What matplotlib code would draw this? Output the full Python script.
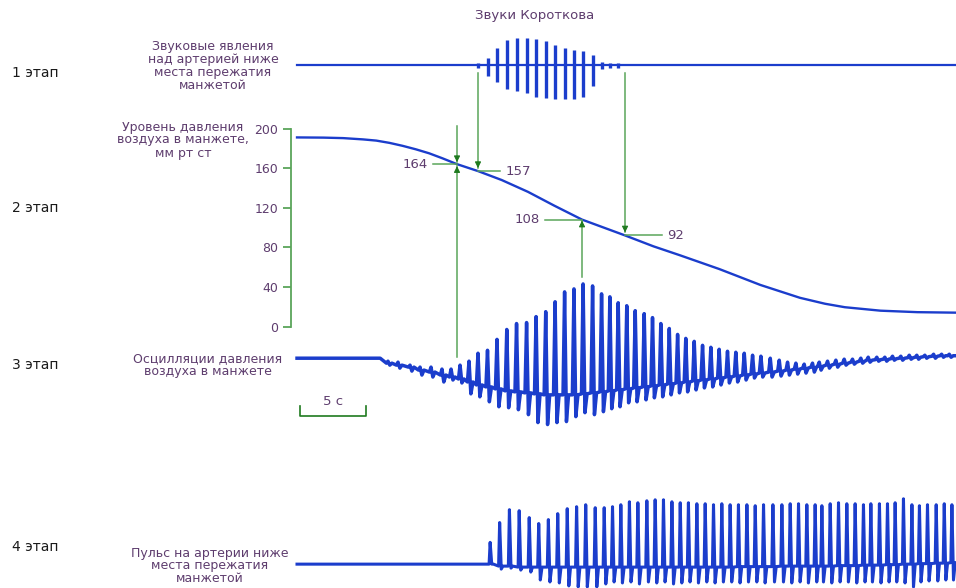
import matplotlib
matplotlib.use("Agg")
import matplotlib.pyplot as plt

# heartbeat times, s (shared by all traces)
beat_t = [6.89, 7.65, 8.56, 9.32, 10.15, 10.98, 11.67, 12.35, 13.03, 13.71,
          14.43, 15.15, 15.89, 16.63, 17.39, 18.11, 18.84, 19.55, 20.27, 20.98,
          21.67, 22.39, 23.07, 23.70, 24.33, 24.98, 25.62, 26.30, 26.93, 27.56,
          28.20, 28.83, 29.45, 30.09, 30.72, 31.35, 31.98, 32.61, 33.24, 33.88,
          34.51, 35.14, 35.85, 36.53, 37.16, 37.79, 38.42, 39.05, 39.56, 40.19,
          40.82, 41.45, 42.08, 42.71, 43.27, 43.92, 44.53, 45.11, 45.74, 46.38,
          46.95, 47.56, 48.22, 48.83, 49.41]
t_end = 49.9

# cuff pressure, mm Hg
press_t = [0, 2.0, 3.5, 5.0, 6.0, 7.0, 8.0, 9.0, 10.0, 11.0, 12.12, 13.71, 15.5,
           17.5, 19.5, 21.59, 24.85, 27.0, 29.0, 32.0, 35.1, 38.1, 40.0, 41.5,
           44.2, 47.0, 49.9]
press_v = [191, 190.8, 190.3, 189, 187.8, 185.5, 182.5, 179, 175, 170, 164, 157,
           148, 136, 122, 108, 92, 81, 72, 58, 42, 29, 23, 19.5, 16, 14.5, 14]

# stage 1: Korotkoff sounds (beats 9..24)
sound_first = 9
sound_up = [2.3, 7.7, 17.7, 25, 27, 27.7, 26.3, 24.3, 20.7, 17.7, 15, 14, 10, 3.3, 2.3, 1.7]
sound_down = [3.3, 11, 16.7, 24.3, 25.7, 27.7, 31.7, 33.3, 34.3, 34.3, 34.3, 31.7, 21, 4.3, 3.3, 2.7]

# stage 3: cuff pressure oscillations, relative to resting level
osc_flat_end = 6.3
osc_top = [-3, -4, -7, -9, -9, -11, -11, -7, -3, 5, 8, 19, 29, 35, 36, 42, 47, 57, 67, 70,
           75, 73, 65, 62, 56, 53, 48, 45, 41, 35, 30, 24, 20, 17, 13, 11, 9, 7, 6, 5,
           3, 2, 0, -2, -4, -5, -6, -5, -4, -3, -2, -1, -1, 0, 1, 1, 1, 2, 2, 3,
           3, 3, 4, 4, 4]
osc_bot = [-7, -10, -13, -17, -19, -24, -22, -25, -36, -39, -44, -49, -50, -52, -57, -65, -67, -65, -64, -59,
           -55, -57, -54, -51, -49, -45, -44, -42, -40, -39, -37, -35, -34, -32, -30, -29, -27, -25, -24, -22,
           -20, -19, -19, -18, -17, -16, -15, -14, -12, -10, -9, -7, -6, -5, -4, -3, -3, -2, -2, -1,
           -1, 0, 0, 1, 1]
osc_base = [-5, -7, -9, -12, -14, -17, -19, -21, -24, -27, -29, -31, -33, -34, -35, -36, -37, -37, -37, -37,
            -36, -35, -34, -33, -32, -31, -30, -29, -28, -27, -26, -25, -24, -23, -22, -21, -20, -19, -18, -17,
            -16, -15, -14, -13, -12, -11, -10, -9, -8, -7, -6, -5, -4, -3, -2, -1.5, -1, -0.5, 0, 0.5,
            1, 1.5, 2, 2.5, 2.5]

# stage 4: pulse below the cuff (beats 10..64)
pulse_first = 10
pulse_lag = 0.2
pulse_top = [22, 42, 55, 54, 47, 41, 45, 51, 56, 58, 60, 57, 57, 58, 60, 63, 62, 64, 65, 65,
             63, 62, 62, 61, 61, 60, 61, 60, 60, 60, 59, 60, 60, 60, 61, 61, 60, 60, 59, 61,
             62, 61, 61, 60, 61, 61, 61, 62, 66, 60, 59, 60, 60, 61, 60]
pulse_bot = [0, -5, -4, -6, -8, -16, -18, -19, -22, -23, -23, -23, -20, -18,
             -19, -18, -20, -18, -19, -18, -20, -19, -18, -19, -18, -19, -18, -18, -19, -18,
             -18, -19, -18, -18, -19, -18, -19, -18, -18, -19, -18, -18, -19, -18, -18, -19,
             -18, -18, -19, -23, -18, -17, -17, -16, -16]
pulse_base = [0, -2, -2, -3, -3, -3, -3, -3, -3, -3, -3, -3, -3, -3, -3, -3, -3, -3, -3, -3,
              -3, -3, -3, -3, -3, -3, -3, -3, -2.5, -2.5, -2.5, -2.5, -2.5, -2, -2, -2, -2, -2, -2, -2,
              -1.5, -1.5, -1.5, -1, -1, -1, -0.5, -0.5, 0, 0, 0.5, 0.5, 1, 1, 1.5]

# marked pressures
mark_t = [12.12, 13.71, 21.59, 24.85]
mark_p = [164, 157, 108, 92]
mark_side = ['left', 'right', 'left', 'right']
mark_len = [1.8, 1.7, 2.8, 2.8]

pressure_ticks = [0, 40, 80, 120, 160, 200]

BLUE = '#1b3dcc'
GREEN = '#5aa55a'
DKGREEN = '#1f7a1f'
PURPLE = '#5e3d6e'

# vertical offsets of the traces (in mm Hg units)
OFF1 = 264
OFF3 = -32
OFF4 = -240

fig = plt.figure(figsize=(9.56, 5.88), dpi=100)
ax = fig.add_axes([0, 0, 1, 1])
ax.set_xlim(-22.5, 49.92)
ax.set_ylim(-264.1, 329.8)

# stage 1
ax.plot([0, t_end], [OFF1, OFF1], color=BLUE, lw=1.6)
st = beat_t[sound_first:sound_first + len(sound_up)]
ax.vlines(st, [OFF1 - d for d in sound_down], [OFF1 + u for u in sound_up],
          color=BLUE, lw=2.4)

# stage 2
ax.plot(press_t, press_v, color=BLUE, lw=1.7)

# stage 3
xs, ys = [0, osc_flat_end], [0, 0]
for t, hi, lo, b in zip(beat_t, osc_top, osc_bot, osc_base):
    xs += [t - 0.12, t, t + 0.14, t + 0.3]
    ys += [b, hi, lo, b]
xs.append(t_end)
ys.append(osc_base[-1])
ax.plot(xs, [y + OFF3 for y in ys], color=BLUE, lw=2.5, solid_joinstyle='round')

# stage 4
xs, ys = [0], [0]
for t, hi, lo, b in zip(beat_t[pulse_first:], pulse_top, pulse_bot, pulse_base):
    t = t + pulse_lag
    xs += [t - 0.08, t, t + 0.12, t + 0.25]
    ys += [b, hi, lo, b]
xs.append(t_end)
ys.append(pulse_base[-1])
ax.plot(xs, [y + OFF4 for y in ys], color=BLUE, lw=2.2, solid_joinstyle='round')

# pressure axis
for s in ['top', 'right', 'bottom']:
    ax.spines[s].set_visible(False)
ax.spines['left'].set_position(('data', -0.48))
ax.spines['left'].set_bounds(0, 200)
ax.spines['left'].set_color(GREEN)
ax.spines['left'].set_linewidth(1.3)
ax.set_xticks([])
ax.set_yticks(pressure_ticks)
ax.tick_params(axis='y', direction='out', length=6, width=1.3, color=GREEN,
               labelcolor=PURPLE, labelsize=9, pad=3)


def arrow(x, y0, y1):
    ax.plot([x, x], [y0, y1], color=GREEN, lw=1.1)
    step = 6 if y1 < y0 else -6
    ax.annotate('', xy=(x, y1), xytext=(x, y1 + step),
                arrowprops=dict(arrowstyle='-|>', color=DKGREEN, lw=0.8,
                                mutation_scale=9, shrinkA=0, shrinkB=0))


# arrows from the sounds down to the pressure curve
arrow(mark_t[1], OFF1 - 8, mark_p[1] + 3)
arrow(mark_t[3], OFF1 - 8, mark_p[3] + 3)
arrow(mark_t[0], 203, mark_p[0] + 2)
# arrows from the oscillations up to the pressure curve
arrow(mark_t[0], OFF3 + 1, mark_p[0] - 2)
arrow(mark_t[2], OFF3 + osc_top[20] + 7, mark_p[2] - 1)

for t, p, side, ln in zip(mark_t, mark_p, mark_side, mark_len):
    if side == 'left':
        ax.plot([t - ln, t], [p, p], color=GREEN, lw=1.1)
        ax.text(t - ln - 0.4, p, str(p), ha='right', va='center', color=PURPLE, fontsize=9.5)
    else:
        ax.plot([t, t + ln], [p, p], color=GREEN, lw=1.1)
        ax.text(t + ln + 0.4, p, str(p), ha='left', va='center', color=PURPLE, fontsize=9.5)

# 5 s scale bar
ax.plot([0.25, 0.25, 5.25, 5.25], [-80, -90, -90, -80], color=DKGREEN, lw=1.2)
ax.text(2.75, -76, '5 с', ha='center', va='center', color=PURPLE, fontsize=9.5)


def ftext(x, y, s, **kw):
    fig.text(x / 956, 1 - y / 588, s, **kw)


lab = dict(ha='center', va='center', color=PURPLE, fontsize=9, linespacing=1.0,
           multialignment='center')
ftext(535, 16, 'Звуки Короткова', ha='center', va='center', color=PURPLE, fontsize=9.5)
ftext(213, 66, 'Звуковые явления\nнад артерией ниже\nместа пережатия\nманжетой', **lab)
ftext(183, 140, 'Уровень давления\nвоздуха в манжете,\nмм рт ст', **lab)
ftext(208, 365, 'Осцилляции давления\nвоздуха в манжете', **lab)
ftext(210, 566, 'Пульс на артерии ниже\nместа пережатия\nманжетой', **lab)

for y, s in zip([73, 208, 365, 547], ['1 этап', '2 этап', '3 этап', '4 этап']):
    ftext(12, y, s, ha='left', va='center', color='#1a1a1a', fontsize=10)

fig.savefig('out.png', dpi=100)
